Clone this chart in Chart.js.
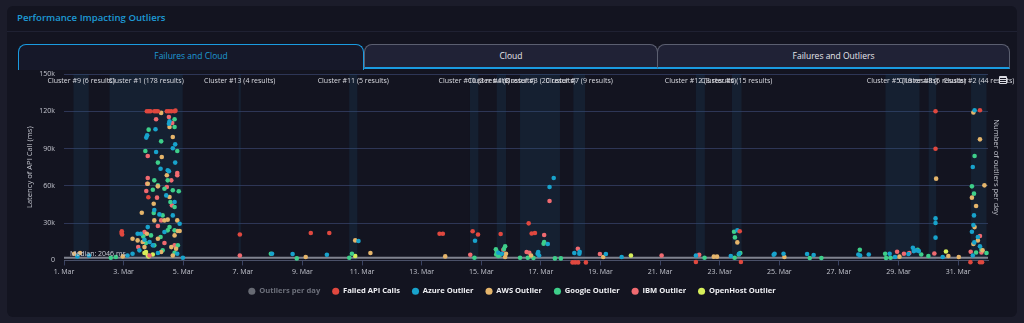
<!DOCTYPE html>
<html>
<head>
<meta charset="utf-8">
<script src="https://cdn.jsdelivr.net/npm/chart.js@4.4.0/dist/chart.umd.min.js"></script>
<style>
  html, body { margin: 0; padding: 0; width: 1024px; height: 323px; overflow: hidden; background: #1b1c2a; font-family: "Open Sans", sans-serif; }
  .card { position: absolute; left: 7px; top: 6px; width: 1010px; height: 311px; background: #131420; border-radius: 6px; }
  .title { position: absolute; left: 17px; top: 11px; color: #1d9ad6; font-size: 9.6px; font-weight: 600; }
  .sep { position: absolute; left: 7px; top: 31px; width: 1010px; height: 1px; background: #1f2132; }
  .tab { position: absolute; top: 44px; height: 25px; box-sizing: border-box; border: 1px solid #5b5f70; border-bottom: 2px solid #1a9be0; border-radius: 8px 8px 0 0; background: #202236; color: #e6e6ec; font-size: 8.5px; text-align: center; line-height: 22px; }
  .tab.active { border: 1.5px solid #1a9be0; border-bottom: none; background: #161829; color: #1d9ad6; height: 26px; }
  .menu { position: absolute; left: 999px; top: 76px; width: 8px; height: 8px; border-radius: 1px; background: #d8d9e0; }
  .menu i { position: absolute; left: 1px; width: 6px; height: 1px; background: #131420; }
  #wrap { position: absolute; left: 0; top: 0; width: 1024px; height: 323px; }
</style>
</head>
<body>
<div class="card"></div>
<div class="title">Performance Impacting Outliers</div>
<div class="sep"></div>
<div class="tab active" style="left:18px;width:346px;">Failures and Cloud</div>
<div class="tab" style="left:364px;width:294px;">Cloud</div>
<div class="tab" style="left:657px;width:353px;">Failures and Outliers</div>
<div id="wrap"><canvas id="chart" width="1024" height="323"></canvas></div>
<div class="menu"><i style="top:2px"></i><i style="top:4px"></i><i style="top:6px"></i></div>
<script>
// x = days since 1. Mar, y = latency in ms
const failedApiCalls = [
  [2.78,120000],[2.84,120000],[2.9,120000],[3.03,120000],[3.09,120000],[3.15,120000],[3.45,120000],[3.52,120000],[3.6,120000],[3.71,120000],[3.74,120500],
  [2.83,50800],[1.93,22000],[1.94,23500],[1.95,20800],[5.9,20900],[8.28,22000],[8.9,22000],
  [12.6,21500],[12.71,21500],[13.71,23400],[13.89,20900],[14.65,21200],[15.59,29800],[15.69,21700],[15.8,22000],
  [17.06,-1600],[17.15,-1600],[17.25,-1600],[17.51,-1600],
  [21.2,-1300],[22.67,23400],[22.71,-1300],[29.24,120000],[29.24,89900],[30.73,120800],[30.41,-1400],[30.73,-1500],[30.8,-1500]
];
const azureOutlier = [
  [3.54,112000],[3.52,110000],[3.07,105500],[2.79,100700],[2.76,98800],[3.09,87200],[3.65,90200],[3.73,93400],[3.73,78700],[3.24,73800],
  [3.48,72500],[3.52,71700],[3.43,52300],[3.71,47000],[3.03,40500],[3.65,36200],[3.2,37000],[3.88,29500],[2.81,26800],[2.47,21500],
  [2.58,21500],[2.87,14800],[2.7,16600],[3.15,5900],[2.53,8100],[2.3,5400],[2.13,4000],[3.99,2100],[3.8,5400],[2.98,12100],
  [0.45,3200],[0.84,4000],[3.37,22800],[6.98,5400],[7.67,5100],[8.82,4600],
  [9.88,15600],[13.79,15800],[14.57,6200],[14.69,5400],[15.91,6700],[15.94,4000],[15.89,5400],[16.23,13200],[16.29,59100],[16.43,66300],
  [17.12,5900],[17.3,7000],[17.29,5400],[18.18,5100],[18.71,2700],
  [21.2,4000],[22.37,3500],[22.59,24200],[22.65,5400],[23.81,4600],[23.84,5400],[24.14,5400],[24.93,5100],[25.15,4300],[26.65,4800],
  [26.71,4000],[27.0,4800],[27.7,5400],[27.88,2700],[28.33,5100],[28.48,10200],[28.51,7500],[28.59,8100],[28.68,7500],
  [29.24,33800],[29.24,30100],[29.24,18300],[29.48,2700],[30.55,120800],[30.49,75200],[30.53,36200],[30.51,28500],[30.46,23100],
  [30.66,18800],[30.54,14500],[30.73,11300],[30.49,4000]
];
const awsOutlier = [
  [3.26,118700],[3.65,99300],[3.54,107400],[3.28,83200],[2.81,61700],[3.45,68500],[3.15,59600],[3.54,51000],[3.01,45600],[2.61,38400],
  [3.03,32200],[3.37,32200],[3.48,32800],[3.8,32200],[3.82,23600],[3.88,23600],[3.71,20100],[2.3,17400],[2.47,16100],[2.64,14800],
  [2.78,21500],[3.15,17400],[2.7,10700],[3.6,10700],[3.76,9400],[3.65,4000],[3.26,6700],[0.54,5900],[0.34,5400],[1.97,3200],[8.11,2700],
  [9.77,16100],[10.28,5900],[12.79,3200],[14.83,5400],[14.8,2700],[15.67,4000],[18.09,2700],
  [21.8,3000],[21.91,3000],[22.59,14500],[24.17,2700],[28.03,3000],[29.26,65800],[29.67,3500],[30.02,2700],[30.51,119000],[30.73,97400],
  [30.46,50500],[30.6,43800],[30.88,60400],[30.55,26800],[30.66,16100],[30.51,13200],[30.82,8100]
];
const googleOutlier = [
  [2.84,105200],[3.71,113600],[3.71,107400],[3.26,95800],[2.73,88000],[3.8,88000],[3.15,78700],[3.03,64400],[3.15,60400],[3.48,64400],
  [2.98,56900],[3.37,57700],[3.65,56400],[3.85,55600],[3.57,47000],[3.71,43000],[3.01,38100],[3.31,36200],[3.54,26800],[2.92,20100],
  [3.24,18800],[3.71,24200],[3.48,24200],[2.66,19300],[2.75,14000],[3.03,12100],[3.31,8100],[3.82,12100],[1.57,2100],[1.74,2700],[3.71,6200],
  [6.94,5400],[7.81,1600],
  [9.57,2100],[9.66,5400],[13.77,2100],[14.49,8900],[14.52,6700],[14.5,4800],[14.63,4600],[14.8,11300],[14.76,9100],[14.57,3500],
  [16.11,14800],[16.09,13400],[15.3,2100],[15.56,2100],[15.75,1900],[16.47,1600],[16.67,1600],
  [21.49,2100],[22.5,2100],[22.48,23000],[22.51,18500],[22.64,4800],[22.69,5900],[25.02,1900],[25.41,1900],[26.7,8600],[27.55,5400],
  [27.58,1900],[27.73,2100],[28.64,8600],[28.76,4800],[29.0,3500],[30.55,84000],[30.46,59600],[30.53,53700],[30.78,8600],[30.6,6400],[30.95,5900]
];
const ibmOutlier = [
  [3.52,115400],[3.09,113600],[3.63,110600],[2.81,84000],[2.81,66300],[2.79,61700],[3.8,70300],[3.8,68500],[3.6,64400],[2.76,55800],
  [3.12,50500],[3.45,59100],[3.62,44300],[3.15,27700],[3.26,32200],[2.7,22800],[3.37,14000],[3.71,12100],[2.49,10700],[2.87,4000],
  [5.9,4000],[13.63,4600],[14.74,8600],[15.52,6700],[15.61,6200],[16.11,20400],[16.29,47800],[17.24,9400],[17.98,5100],[20.05,4000],
  [21.31,4600],[27.95,7000],[28.18,5400],[28.36,5900],[29.2,5600],[30.73,19600],[30.42,7000],[30.78,6400]
];
const openHostOutlier = [
  [2.81,4000],[2.84,3200],[2.75,6700],[2.98,4800],[2.7,5900],[9.77,3500],[19.02,4000],[29.59,7200]
];
const outliersPerDay = [];

const seriesNames = ['Outliers per day', 'Failed API Calls', 'Azure Outlier', 'AWS Outlier', 'Google Outlier', 'IBM Outlier', 'OpenHost Outlier'];
const seriesColors = ['#676a73', '#e0483f', '#18a3cc', '#e5b56b', '#3ecf8a', '#f06a70', '#d7ef5a'];
const seriesData = [outliersPerDay, failedApiCalls, azureOutlier, awsOutlier, googleOutlier, ibmOutlier, openHostOutlier];

const clusterNames = ['Cluster #9 (6 results)', 'Cluster #1 (178 results)', 'Cluster #13 (4 results)', 'Cluster #11 (5 results)',
  'Cluster #10 (3 results)', 'Cluster #4 (8 results)', 'Cluster #3 (20 results)', 'Cluster #7 (9 results)',
  'Cluster #12 (3 results)', 'Cluster #6 (15 results)', 'Cluster #5 (19 results)', 'Cluster #8 (6 results)', 'Cluster #2 (44 results)'];
const clusterStart = [0.32, 1.53, 5.86, 9.57, 13.62, 14.52, 15.3, 17.09, 21.2, 22.41, 27.56, 29.01, 30.43];
const clusterEnd   = [0.83, 3.98, 5.93, 9.84, 13.9, 14.83, 16.64, 17.48, 21.5, 22.73, 28.7, 29.26, 30.95];

const medianMs = 2046;
const xTickDays = [0, 2, 4, 6, 8, 10, 12, 14, 16, 18, 20, 22, 24, 26, 28, 30];

const clusterPlugin = {
  id: 'clusters',
  beforeDatasetsDraw(chart) {
    const { ctx, chartArea, scales: { x, y } } = chart;
    ctx.save();
    ctx.fillStyle = 'rgba(30,80,120,0.2)';
    clusterStart.forEach((s, i) => {
      const x0 = x.getPixelForValue(s);
      const x1 = x.getPixelForValue(clusterEnd[i]);
      ctx.fillRect(x0, chartArea.top, Math.max(x1 - x0, 2), chartArea.bottom - chartArea.top);
    });
    const my = y.getPixelForValue(medianMs);
    ctx.strokeStyle = '#80838f';
    ctx.lineWidth = 2;
    ctx.beginPath();
    ctx.moveTo(chartArea.left, my);
    ctx.lineTo(chartArea.right, my);
    ctx.stroke();
    ctx.restore();
  },
  afterDraw(chart) {
    const { ctx, chartArea, scales: { x, y } } = chart;
    ctx.save();
    ctx.font = '7px "Open Sans"';
    ctx.fillStyle = '#dcdde3';
    ctx.textAlign = 'center';
    ctx.textBaseline = 'middle';
    clusterNames.forEach((n, i) => {
      const cx = (x.getPixelForValue(clusterStart[i]) + x.getPixelForValue(clusterEnd[i])) / 2;
      ctx.fillText(n, cx, chartArea.top + 7);
    });
    ctx.textAlign = 'left';
    ctx.fillStyle = '#c9cad2';
    ctx.fillText('Median: ' + medianMs + ' ms', chartArea.left + 6, y.getPixelForValue(medianMs) - 4);
    ctx.restore();
  }
};

const datasets = seriesNames.map((name, i) => ({
  label: name,
  data: seriesData[i].map(p => ({ x: p[0], y: p[1] })),
  yAxisID: i === 0 ? 'y1' : 'y',
  backgroundColor: seriesColors[i],
  borderWidth: 0,
  pointRadius: 2.3,
  pointHoverRadius: 2.3,
  clip: false
}));

new Chart(document.getElementById('chart').getContext('2d'), {
  type: 'scatter',
  data: { datasets },
  options: {
    responsive: false,
    animation: false,
    layout: { padding: { top: 74, left: 0, right: 0, bottom: 18 } },
    plugins: {
      tooltip: { enabled: false },
      legend: {
        position: 'bottom',
        labels: {
          usePointStyle: true,
          pointStyle: 'circle',
          boxWidth: 7,
          boxHeight: 5,
          padding: 12,
          font: { family: 'Open Sans', size: 7.6, weight: 'bold' },
          color: '#f0f0f4',
          generateLabels(chart) {
            const items = Chart.defaults.plugins.legend.labels.generateLabels(chart);
            items.forEach((it, i) => { it.fontColor = i === 0 ? '#6c6f7a' : '#f0f0f4'; it.lineWidth = 0; });
            return items;
          }
        }
      }
    },
    scales: {
      x: {
        type: 'linear', min: 0, max: 31,
        afterBuildTicks: s => { s.ticks = xTickDays.map(v => ({ value: v })); },
        afterFit: s => { s.height = 15; },
        ticks: { callback: v => (v + 1) + '. Mar', color: '#c4c6cf', font: { family: 'Open Sans', size: 7 }, padding: 2, maxRotation: 0, autoSkip: false },
        grid: { drawOnChartArea: false, tickLength: 5, color: '#3a4262' },
        border: { color: '#4a5068', width: 1 }
      },
      y: {
        position: 'left', min: 0, max: 150000,
        afterFit: s => { s.width = 64; },
        ticks: { stepSize: 30000, callback: v => v === 0 ? '0' : (v / 1000) + 'k', color: '#c4c6cf', font: { family: 'Open Sans', size: 7 }, padding: 9 },
        grid: { color: '#2e3656', drawTicks: false },
        border: { display: false },
        title: { display: true, text: 'Latency of API Call (ms)', color: '#c4c6cf', font: { family: 'Open Sans', size: 7.6 }, padding: { top: 25, bottom: 0 } }
      },
      y1: {
        position: 'right', display: true, min: 0, max: 10,
        afterFit: s => { s.width = 36; },
        ticks: { display: false },
        grid: { display: false, drawTicks: false },
        border: { display: false },
        title: { display: true, text: 'Number of outliers per day', color: '#c4c6cf', font: { family: 'Open Sans', size: 7.6 }, padding: { top: 23, bottom: 0 } }
      }
    }
  },
  plugins: [clusterPlugin]
});
</script>
</body>
</html>
